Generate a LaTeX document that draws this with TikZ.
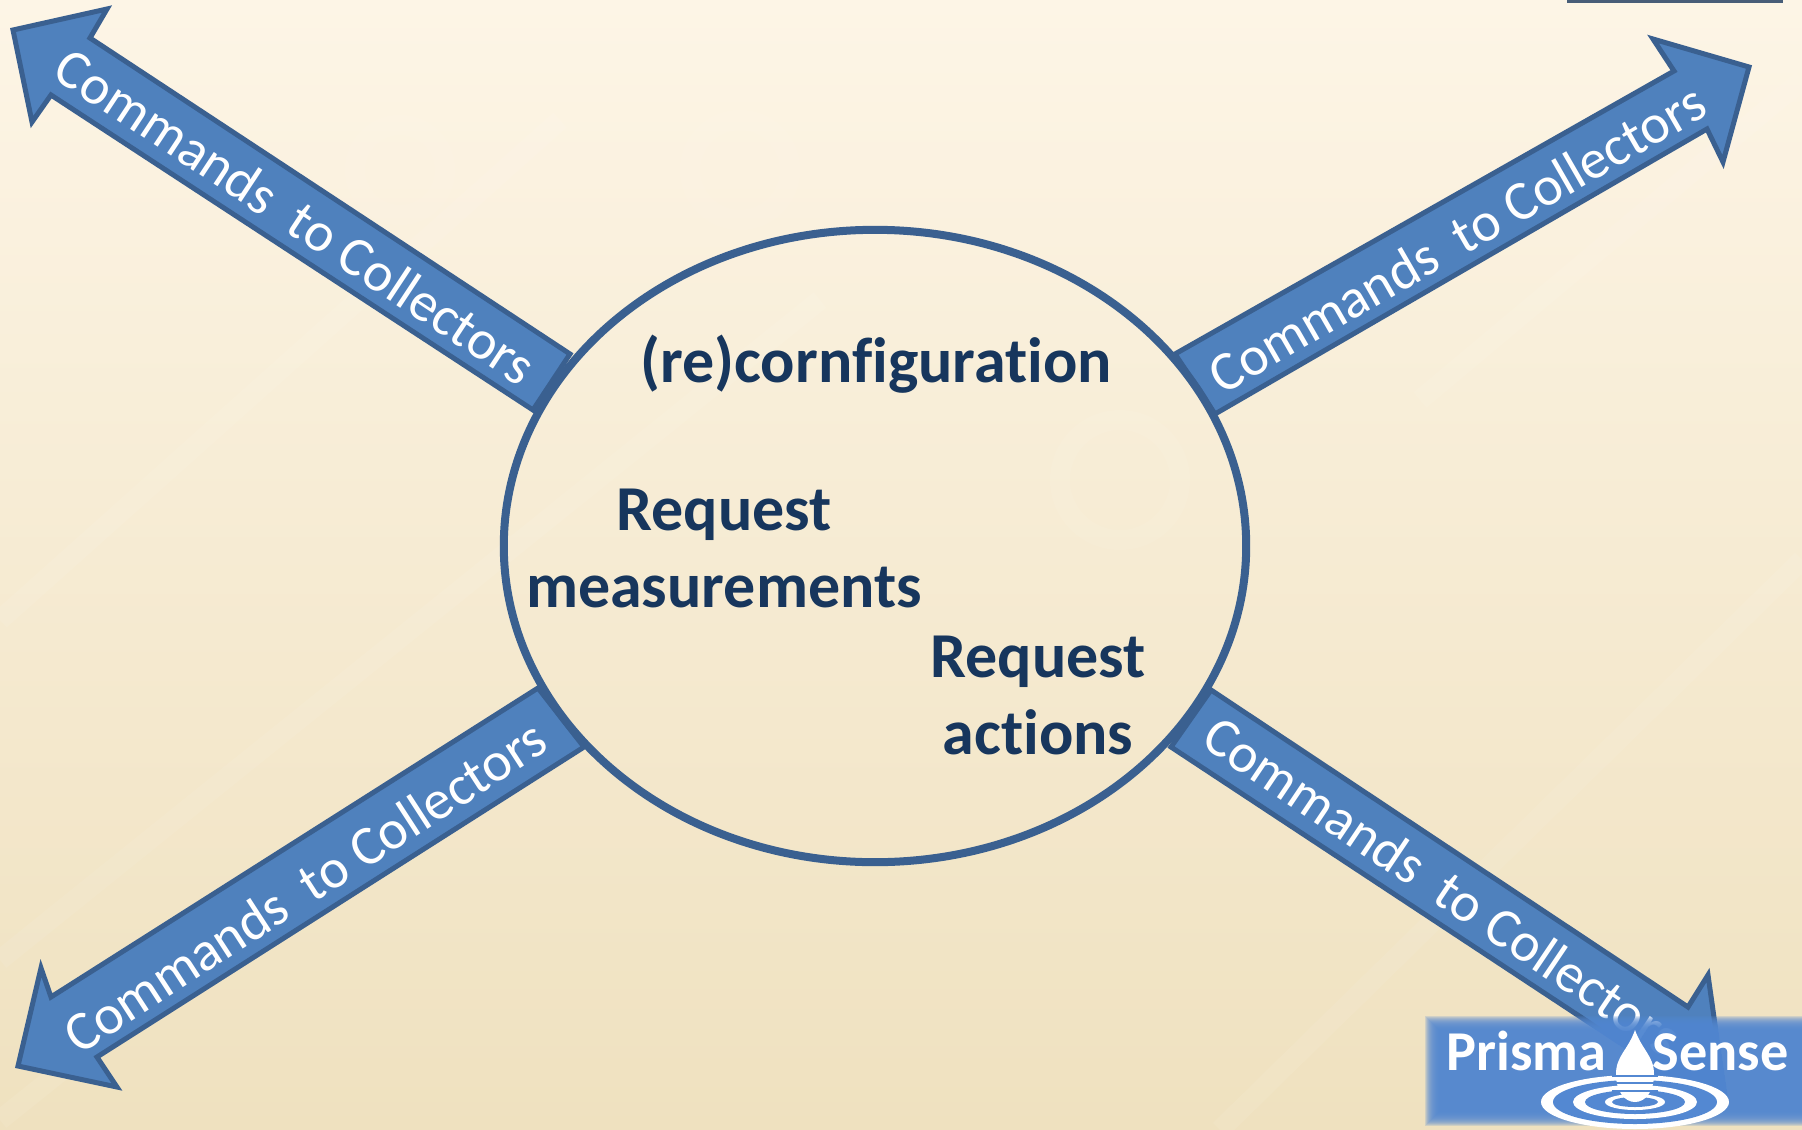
\documentclass[tikz,border=0pt]{standalone}
\usepackage{fontspec}
\setmainfont{Carlito}[Ligatures=NoCommon]
\usetikzlibrary{shapes.geometric}
\definecolor{paperTop}{HTML}{FDF5E6}
\definecolor{paperBot}{HTML}{EFE1BF}
\definecolor{arrowFill}{HTML}{4F81BD}
\definecolor{arrowLine}{HTML}{3A6090}
\definecolor{textBlue}{HTML}{17365D}
\definecolor{logoBlue}{HTML}{5388D2}
\tikzset{
  cmdarrow/.style={fill=arrowFill,draw=arrowLine,line width=.5mm,line join=miter},
  cmdlabel/.style={text=white,inner sep=0pt,font=\fontsize{15.8}{19}\selectfont},
  hublabel/.style={text=textBlue,inner sep=0pt,align=center,font=\fontsize{18.2}{21.9}\selectfont\bfseries},
  logotext/.style={text=white,inner sep=0pt,anchor=base west,font=\fontsize{16}{19}\selectfont\bfseries},
  ghost/.style={draw=white,opacity=.07,line width=2mm}
}
\begin{document}
\begin{tikzpicture}[x=0.01cm,y=-0.01cm]
\useasboundingbox (0,0) rectangle (1802,1130);
\clip (0,0) rectangle (1802,1130);
\shade[top color=paperTop,bottom color=paperBot] (0,0) rectangle (1802,1130);
% faint backdrop
\foreach \xa/\ya/\xb/\yb in {0/620/560/120, 0/960/820/300, 0/1120/300/880, 1220/1130/1802/560, 1420/400/1802/80}
  \draw[ghost] (\xa,\ya) -- (\xb,\yb);
\draw[ghost,opacity=.06] (1120,480) circle (60);
\draw[ghost,opacity=.06] (400,170) circle (45);
\draw[ghost,opacity=.06] (740,170) circle (50);
% strip at the top
\fill[arrowLine!70!black,opacity=.85] (1567,0) rectangle (1783,3);
% arrows
\draw[cmdarrow] (13,30) -- (107,9) -- (90,38) -- (570,354) -- (533,410) -- (51,95) -- (32,122) -- cycle;
\draw[cmdarrow] (1749,67) -- (1653,39) -- (1674,71) -- (1175,354) -- (1215,414) -- (1707,129) -- (1723,162) -- cycle;
\draw[cmdarrow] (18,1066) -- (41,968) -- (51,997) -- (538,688) -- (584,747) -- (97,1057) -- (117,1087) -- cycle;
\draw[cmdarrow] (1725,1095) -- (1708,975) -- (1688,1007) -- (1211,690) -- (1171,747) -- (1652,1064) -- (1625,1092) -- cycle;
\node[cmdlabel,rotate=-33.5] (cmdNW) at (296,216) {Commands\ \ to Collectors};
\node[cmdlabel,rotate=30] (cmdNE) at (1457,238) {Commands\ \ to Collectors};
\node[cmdlabel,rotate=33] (cmdSW) at (305,886) {Commands\ \ to Collectors};
\node[cmdlabel,rotate=-34] (cmdSE) at (1443,886) {Commands\ \ to Collectors};
% central ellipse
\node[ellipse,draw=arrowLine,line width=.8mm,minimum width=7.42cm,minimum height=6.32cm,inner sep=0pt] (hub) at (875,546) {};
\node[hublabel] (reconf) at (876,364) {(re)cornfiguration};
\node[hublabel] (meas) at (724,548) {Request\\measurements};
\node[hublabel] (act) at (1038,695) {Request\\actions};
% logo
\foreach \m in {0,1,...,14}
  \fill[logoBlue,opacity=.2] (1425+\m,1016+\m) rectangle (1802,1126-\m);
\fill[white] (1635,1102) ellipse (94 and 27);
\fill[logoBlue] (1635,1102) ellipse (82 and 22);
\fill[white] (1635,1102) ellipse (62 and 17);
\fill[logoBlue] (1635,1102) ellipse (50 and 12);
\fill[white] (1635,1102) ellipse (30 and 8);
\fill[logoBlue] (1635,1102) ellipse (23 and 5);
\fill[white] (1635,1030) .. controls (1642,1050) and (1654,1056) .. (1654,1074)
  .. controls (1654,1092) and (1645,1102) .. (1635,1102)
  .. controls (1625,1102) and (1616,1092) .. (1616,1074)
  .. controls (1616,1056) and (1628,1050) .. (1635,1030) -- cycle;
\foreach \s in {1076,1083,1091}
  \draw[logoBlue,line width=.25mm] (1612,\s) -- (1658,\s);
\node[logotext] (prisma) at (1446,1070) {Prisma};
\node[logotext] (sense) at (1652,1070) {Sense};
\end{tikzpicture}
\end{document}
